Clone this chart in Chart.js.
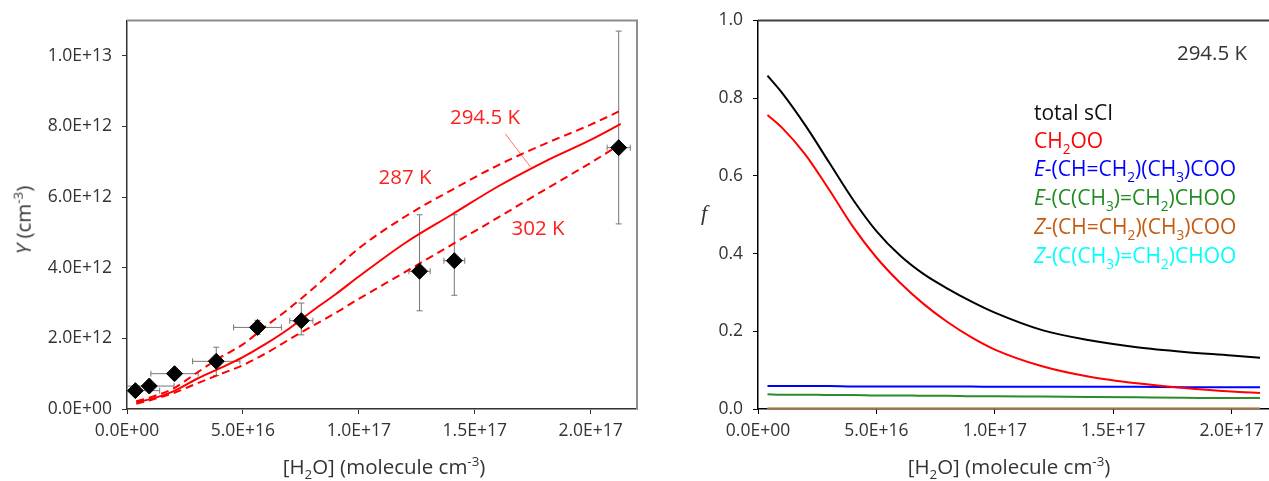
<!DOCTYPE html>
<html>
<head>
<meta charset="utf-8">
<script src="https://cdn.jsdelivr.net/npm/chart.js@4.4.0/dist/chart.umd.min.js"></script>
<style>
  body { margin: 0; width: 1269px; height: 481px; overflow: hidden; background: #fff; font-family: "Open Sans", sans-serif; }
  .wrap { position: absolute; top: 0; }
  .lbl { position: absolute; white-space: nowrap; font-size: 20.5px; line-height: 1.2; transform: translate(-50%, -50%); }
  .leg { position: absolute; white-space: nowrap; font-size: 21px; line-height: 1.2; left: 1034px; transform: translateY(-50%); }
  sub, sup { font-size: 0.65em; line-height: 0; }
</style>
</head>
<body>
<div class="wrap" style="left:0"><canvas id="yieldChart" width="645" height="481"></canvas></div>
<div class="wrap" style="left:640px"><canvas id="fracChart" width="640" height="481"></canvas></div>

<div class="lbl" style="left:23px;top:220px;transform:translate(-50%,-50%) rotate(-90deg);color:#333"><i>Y</i> (cm<sup>-3</sup>)</div>
<div class="lbl" style="left:384px;top:466px;color:#333">[H<sub>2</sub>O] (molecule cm<sup>-3</sup>)</div>
<div class="lbl" style="left:485px;top:116px;color:#ff2020">294.5 K</div>
<div class="lbl" style="left:405px;top:176px;color:#ff2020">287 K</div>
<div class="lbl" style="left:538px;top:227px;color:#ff2020">302 K</div>

<div class="lbl" style="left:704px;top:213px;font-family:'Liberation Serif',serif;font-style:italic;font-size:22px;color:#333">f</div>
<div class="lbl" style="left:1009px;top:466px;color:#333">[H<sub>2</sub>O] (molecule cm<sup>-3</sup>)</div>
<div class="lbl" style="left:1212px;top:52px;color:#333">294.5 K</div>
<div class="leg" style="top:113px;color:#111">total sCI</div>
<div class="leg" style="top:141px;color:#ff0000">CH<sub>2</sub>OO</div>
<div class="leg" style="top:169px;color:#0000ff"><i>E</i>-(CH=CH<sub>2</sub>)(CH<sub>3</sub>)COO</div>
<div class="leg" style="top:198px;color:#228b22"><i>E</i>-(C(CH<sub>3</sub>)=CH<sub>2</sub>)CHOO</div>
<div class="leg" style="top:227px;color:#c55a11"><i>Z</i>-(CH=CH<sub>2</sub>)(CH<sub>3</sub>)COO</div>
<div class="leg" style="top:256px;color:#00ffff"><i>Z</i>-(C(CH<sub>3</sub>)=CH<sub>2</sub>)CHOO</div>

<script>
// axis ticks
const h2oTicks = [0, 5e16, 1e17, 1.5e17, 2e17];
const yieldTicks = [0, 2e12, 4e12, 6e12, 8e12, 1e13];
const fracTicks = [0, 0.2, 0.4, 0.6, 0.8, 1.0];

// measured yields with error bars
const h2oObs = [0.36e16, 0.96e16, 2.05e16, 3.85e16, 5.63e16, 7.52e16, 1.262e17, 1.412e17, 2.121e17];
const yObs = [0.52e12, 0.65e12, 1.0e12, 1.35e12, 2.31e12, 2.5e12, 3.9e12, 4.2e12, 7.4e12];
const xErr = [1.05e16, 1.07e16, 1.02e16, 1.02e16, 1.03e16, 0.5e16, 0.46e16, 0.45e16, 0.5e16];
const yErrUp = [0.08e12, 0.08e12, 0.1e12, 0.4e12, 0.2e12, 0.5e12, 1.6e12, 1.3e12, 3.3e12];
const yErrDown = [0.08e12, 0.08e12, 0.1e12, 0.4e12, 0.2e12, 0.4e12, 1.12e12, 0.98e12, 2.16e12];

// model curves (units of 1e12)
const modelH2O = [0.4e16, 1e16, 2e16, 3e16, 4e16, 5e16, 6e16, 7e16, 8e16, 9e16, 1e17, 1.2e17, 1.4e17, 1.6e17, 1.8e17, 2.0e17, 2.13e17];
const y294 = [0.19, 0.28, 0.5, 0.85, 1.15, 1.47, 1.85, 2.28, 2.78, 3.25, 3.75, 4.7, 5.5, 6.3, 7.0, 7.62, 8.07];
const y287 = [0.22, 0.33, 0.58, 1.02, 1.45, 1.83, 2.35, 2.85, 3.4, 3.98, 4.55, 5.45, 6.2, 6.9, 7.5, 8.05, 8.45];
const y302 = [0.15, 0.25, 0.45, 0.72, 0.98, 1.24, 1.58, 1.97, 2.35, 2.72, 3.12, 3.88, 4.65, 5.42, 6.2, 6.97, 7.5];
const leaderX = [1.632e17, 1.74e17];
const leaderY = [7.79e12, 6.86e12];

// fractions at 294.5 K
const fracH2O = [0.4e16, 1e16, 2e16, 3e16, 4e16, 5e16, 6e16, 7e16, 8e16, 9e16, 1e17, 1.2e17, 1.4e17, 1.6e17, 1.8e17, 2.0e17, 2.12e17];
const fTotal = [0.858, 0.815, 0.73, 0.635, 0.54, 0.458, 0.395, 0.347, 0.31, 0.277, 0.248, 0.203, 0.177, 0.159, 0.147, 0.138, 0.132];
const fCH2OO = [0.757, 0.725, 0.655, 0.565, 0.47, 0.39, 0.325, 0.27, 0.224, 0.185, 0.153, 0.11, 0.083, 0.066, 0.054, 0.045, 0.041];
const fEvinyl = [0.059, 0.059, 0.059, 0.059, 0.058, 0.058, 0.058, 0.058, 0.058, 0.058, 0.057, 0.057, 0.057, 0.057, 0.056, 0.056, 0.056];
const fEmethyl = [0.038, 0.037, 0.037, 0.036, 0.036, 0.035, 0.035, 0.034, 0.034, 0.033, 0.033, 0.032, 0.031, 0.030, 0.029, 0.028, 0.028];
const fZvinyl = [0.001, 0.001, 0.001, 0.001, 0.001, 0.001, 0.001, 0.001, 0.001, 0.001, 0.001, 0.001, 0.001, 0.001, 0.001, 0.001, 0.001];
const fZmethyl = [0.0005, 0.0005, 0.0005, 0.0005, 0.0005, 0.0005, 0.0005, 0.0005, 0.0005, 0.0005, 0.0005, 0.0005, 0.0005, 0.0005, 0.0005, 0.0005, 0.0005];

const pts = (xs, ys, k) => xs.map((x, i) => ({ x: x, y: ys[i] * (k || 1) }));

function sci(v) {
  if (v === 0) return '0.0E+00';
  const e = Math.floor(Math.log10(Math.abs(v)) + 1e-9);
  return (v / Math.pow(10, e)).toFixed(1) + 'E+' + String(e).padStart(2, '0');
}
const useTicks = list => s => { s.ticks = list.map(v => ({ value: v })); };
const tickFont = { family: 'Open Sans', size: 17.5 };

const frame = {
  id: 'frame',
  beforeDatasetsDraw(chart, args, opts) {
    const a = chart.chartArea, c = chart.ctx;
    c.save();
    c.strokeStyle = opts.color;
    c.lineWidth = opts.width;
    c.beginPath();
    c.moveTo(a.left, a.top);
    c.lineTo(a.right + (opts.right ? 0 : 5), a.top);
    if (opts.right) c.lineTo(a.right, a.bottom);
    c.stroke();
    c.restore();
  }
};

const errorBars = {
  id: 'errorBars',
  beforeDatasetsDraw(chart) {
    const sx = chart.scales.x, sy = chart.scales.y, c = chart.ctx, a = chart.chartArea;
    c.save();
    c.beginPath();
    c.rect(a.left, a.top, a.right - a.left, a.bottom - a.top);
    c.clip();
    c.strokeStyle = '#777';
    c.lineWidth = 1;
    c.beginPath();
    h2oObs.forEach((x, i) => {
      const px = sx.getPixelForValue(x), py = sy.getPixelForValue(yObs[i]);
      const x1 = sx.getPixelForValue(x - xErr[i]), x2 = sx.getPixelForValue(x + xErr[i]);
      const y1 = sy.getPixelForValue(yObs[i] + yErrUp[i]), y2 = sy.getPixelForValue(yObs[i] - yErrDown[i]);
      c.moveTo(x1, py); c.lineTo(x2, py);
      c.moveTo(x1, py - 3); c.lineTo(x1, py + 3);
      c.moveTo(x2, py - 3); c.lineTo(x2, py + 3);
      c.moveTo(px, y1); c.lineTo(px, y2);
      c.moveTo(px - 3, y1); c.lineTo(px + 3, y1);
      c.moveTo(px - 3, y2); c.lineTo(px + 3, y2);
    });
    c.stroke();
    c.restore();
  }
};

const curve = { showLine: true, pointRadius: 0, cubicInterpolationMode: 'monotone' };

new Chart(document.getElementById('yieldChart'), {
  type: 'scatter',
  data: {
    datasets: [{
      data: pts(h2oObs, yObs),
      pointStyle: 'rectRot',
      pointRadius: 8,
      backgroundColor: '#000',
      borderColor: '#000',
      showLine: false
    },
    Object.assign({ data: pts(modelH2O, y294, 1e12), borderColor: '#ff0000', borderWidth: 2 }, curve),
    Object.assign({ data: pts(modelH2O, y287, 1e12), borderColor: '#ff0000', borderWidth: 2, borderDash: [8, 5] }, curve),
    Object.assign({ data: pts(modelH2O, y302, 1e12), borderColor: '#ff0000', borderWidth: 2, borderDash: [8, 5] }, curve),
    { data: pts(leaderX, leaderY), showLine: true, borderColor: '#ff7070', borderWidth: 1, pointRadius: 0 }]
  },
  options: {
    responsive: false,
    animation: false,
    layout: { padding: { top: 16, right: 8, left: 0, bottom: 0 }, autoPadding: false },
    plugins: { legend: { display: false }, tooltip: { enabled: false }, frame: { color: '#8c8c8c', width: 2, right: true } },
    scales: {
      x: {
        type: 'linear', min: 0, max: 2.2e17,
        ticks: { callback: sci, color: '#333', font: tickFont, padding: 7, maxRotation: 0, autoSkip: false },
        grid: { drawOnChartArea: false, drawTicks: true, tickLength: 5, color: '#333' },
        border: { color: '#333', width: 1.5 },
        afterBuildTicks: useTicks(h2oTicks),
        afterFit: s => { s.height = 72; }
      },
      y: {
        type: 'linear', min: 0, max: 1.1e13,
        ticks: { callback: sci, color: '#333', font: tickFont, padding: 10 },
        grid: { drawOnChartArea: false, drawTicks: true, tickLength: 5, color: '#333' },
        border: { color: '#333', width: 1.5 },
        afterBuildTicks: useTicks(yieldTicks),
        afterFit: s => { s.width = 127; }
      }
    }
  },
  plugins: [frame, errorBars]
});

const fracLine = (ys, color) => Object.assign({ data: pts(fracH2O, ys), borderColor: color, borderWidth: 2 }, curve);

new Chart(document.getElementById('fracChart'), {
  type: 'scatter',
  data: {
    datasets: [
      fracLine(fTotal, '#000000'),
      fracLine(fCH2OO, '#ff0000'),
      fracLine(fEvinyl, '#0000ff'),
      fracLine(fEmethyl, '#2a8c2a'),
      fracLine(fZvinyl, '#c06a2a'),
      fracLine(fZmethyl, '#00ffff')
    ]
  },
  options: {
    responsive: false,
    animation: false,
    layout: { padding: { top: 16, right: 1, left: 0, bottom: 0 }, autoPadding: false },
    plugins: { legend: { display: false }, tooltip: { enabled: false }, frame: { color: '#404040', width: 2, right: false } },
    scales: {
      x: {
        type: 'linear', min: 0, max: 2.2e17,
        ticks: { callback: sci, color: '#333', font: tickFont, padding: 7, maxRotation: 0, autoSkip: false },
        grid: { drawOnChartArea: false, drawTicks: true, tickLength: 5, color: '#000' },
        border: { color: '#000', width: 1.5 },
        afterBuildTicks: useTicks(h2oTicks),
        afterFit: s => { s.height = 72; }
      },
      y: {
        type: 'linear', min: 0, max: 1.0,
        ticks: { callback: v => v.toFixed(1), color: '#333', font: tickFont, padding: 10 },
        grid: { drawOnChartArea: false, drawTicks: true, tickLength: 5, color: '#000' },
        border: { color: '#000', width: 1.5 },
        afterBuildTicks: useTicks(fracTicks),
        afterFit: s => { s.width = 118; }
      }
    }
  },
  plugins: [frame]
});
</script>
</body>
</html>
